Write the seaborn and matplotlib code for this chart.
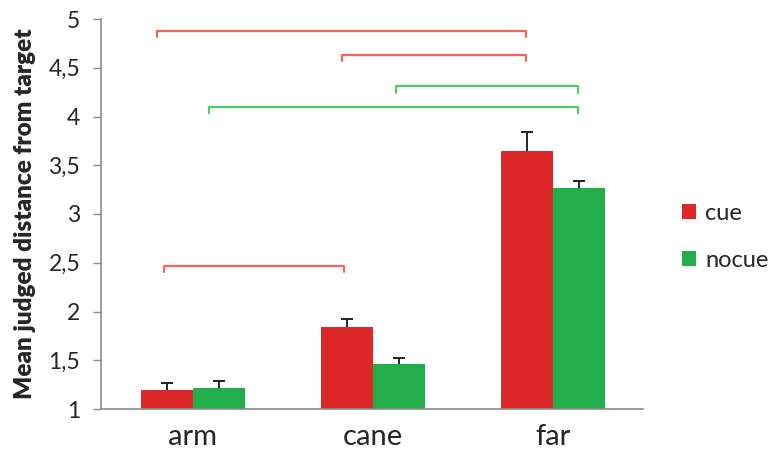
import matplotlib
matplotlib.use("Agg")
import matplotlib.pyplot as plt
import seaborn as sns
import pandas as pd
import numpy as np
from matplotlib.patches import Patch

# Data
conditions = ["arm", "cane", "far"]
cue_means = [1.19, 1.84, 3.65]
nocue_means = [1.22, 1.46, 3.27]
cue_err = [0.075, 0.08, 0.19]
nocue_err = [0.07, 0.06, 0.065]
groups = ["cue", "nocue"]

# Significance brackets: (x_start, x_end, y, group)
brackets = [
    (-0.20, 1.85, 4.88, "cue"),
    (0.83, 1.85, 4.63, "cue"),
    (1.13, 2.14, 4.31, "nocue"),
    (0.09, 2.14, 4.10, "nocue"),
    (-0.16, 0.84, 2.47, "cue"),
]

bar_colors = {"cue": "#DC2828", "nocue": "#21AE4B"}
bracket_colors = {"cue": "#F0675C", "nocue": "#52C76C"}

df = pd.DataFrame({
    "condition": conditions * 2,
    "group": ["cue"] * 3 + ["nocue"] * 3,
    "value": cue_means + nocue_means,
    "err": cue_err + nocue_err,
})

sns.set_style("white")
plt.rcParams["font.family"] = ["Lato", "DejaVu Sans"]

fig = plt.figure(figsize=(7.72, 4.54), dpi=100)
ax = fig.add_axes([101 / 772, 1 - 409 / 454, 542 / 772, 390 / 454])

sns.barplot(data=df, x="condition", y="value", hue="group", order=conditions,
            hue_order=groups, palette=bar_colors, width=0.575, errorbar=None,
            saturation=1, ax=ax, legend=False, linewidth=0)

# Upper-only error bars placed on each bar
for container, g in zip(ax.containers, groups):
    sub = df[df.group == g].set_index("condition").loc[conditions]
    xs = [p.get_x() + p.get_width() / 2 for p in container.patches]
    ys = sub["value"].values
    errs = sub["err"].values
    _, caps, _ = ax.errorbar(xs, ys, yerr=[np.zeros_like(errs), errs],
                             fmt="none", ecolor="#222222", elinewidth=1.4,
                             capsize=4, capthick=1.4, zorder=3)
    caps[0].set_visible(False)

# Brackets
tick_h = 0.065
for x0, x1, y, g in brackets:
    ax.plot([x0, x0, x1, x1], [y - tick_h, y, y, y - tick_h],
            color=bracket_colors[g], lw=1.6, solid_joinstyle="round",
            solid_capstyle="round", clip_on=False)

ax.set_xlim(-0.51, 2.5)
ax.set_ylim(1, 5)
yt = np.arange(1, 5.01, 0.5)
ax.set_yticks(yt)
ax.set_yticklabels([("%g" % v).replace(".", ",") for v in yt], fontsize=16.5)
ax.tick_params(axis="y", which="major", left=True, length=6, width=1,
               color="#8c8c8c", pad=9)
ax.tick_params(axis="x", bottom=False, labelsize=21, pad=7)
ax.set_xlabel("")
ax.set_ylabel("Mean judged distance from target", fontsize=17.5,
              fontweight="heavy", labelpad=9)

for side in ["top", "right"]:
    ax.spines[side].set_visible(False)
for side in ["left", "bottom"]:
    ax.spines[side].set_color("#8c8c8c")
    ax.spines[side].set_linewidth(1.2)

# Legend
handles = [Patch(facecolor=bar_colors[g], edgecolor="none", label=g) for g in groups]
fig.legend(handles=handles, loc="upper left", bbox_to_anchor=(677 / 772, 1 - 198 / 454),
           frameon=False, fontsize=17, handlelength=0.6, handleheight=0.6,
           labelspacing=1.12, handletextpad=0.4, borderaxespad=0, borderpad=0.2)

fig.savefig("out.png", dpi=100)
